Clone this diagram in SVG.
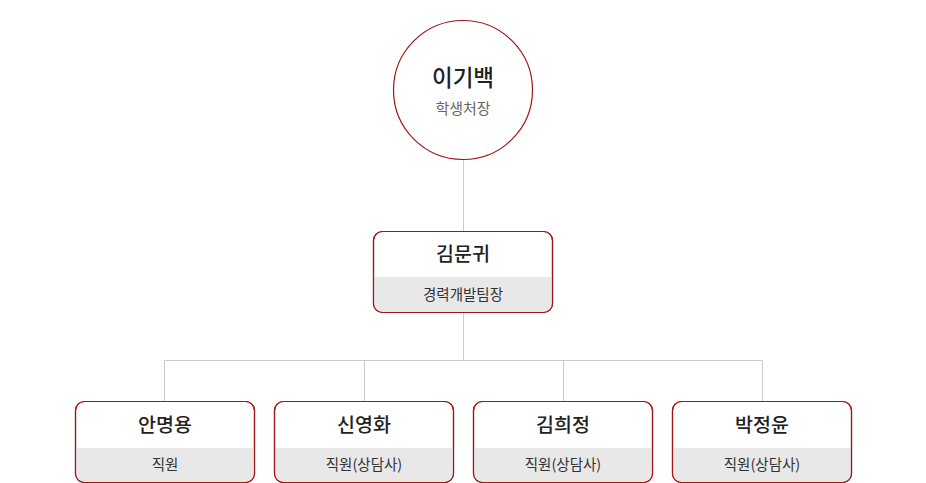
<svg xmlns="http://www.w3.org/2000/svg" width="926" height="483" viewBox="0 0 926 483">
<style>
.box{fill:#fff;stroke:#a31515;stroke-width:1.2}
.band{fill:#e8e8e8}
.name{font-family:"Noto Sans CJK KR","Noto Sans",sans-serif;font-size:19.5px;font-weight:500;fill:#222;text-anchor:middle}
.role{font-family:"Noto Sans CJK KR","Noto Sans",sans-serif;font-size:14.5px;fill:#333;text-anchor:middle}
.conn{stroke:#cccccc;stroke-width:1;fill:none}
</style>
<defs>
<clipPath id="c0"><rect x="373.5" y="231.5" width="179" height="81" rx="9"/></clipPath>
<clipPath id="c1"><rect x="75.5" y="401.5" width="179" height="81" rx="9"/></clipPath>
<clipPath id="c2"><rect x="274.5" y="401.5" width="179" height="81" rx="9"/></clipPath>
<clipPath id="c3"><rect x="473.5" y="401.5" width="179" height="81" rx="9"/></clipPath>
<clipPath id="c4"><rect x="672.5" y="401.5" width="179" height="81" rx="9"/></clipPath>
</defs>
<g id="connectors">
<path class="conn" d="M463.5 160V231.5M463.5 312.5V360.5M164.5 360.5H762.5M164.5 360.5V401.5M364.5 360.5V401.5M563.5 360.5V401.5M762.5 360.5V401.5"/>
</g>
<g id="n-lee">
<circle cx="463" cy="90" r="69.5" fill="#fff" stroke="#a31515" stroke-width="1.2"/>
<text class="name" x="463" y="86" style="font-size:22.5px">이기백</text>
<text class="role" x="463" y="114" style="fill:#666;font-size:15px">학생처장</text>
</g>
<g id="n-kimmg">
<rect class="box" x="373.5" y="231.5" width="179" height="81" rx="9"/>
<rect class="band" x="374" y="277" width="178" height="35" clip-path="url(#c0)"/>
<rect x="373.5" y="231.5" width="179" height="81" rx="9" fill="none" stroke="#a31515" stroke-width="1.2"/>
<text class="name" x="463" y="261">김문귀</text>
<text class="role" x="463" y="300">경력개발팀장</text>
</g>
<g id="n-ahn">
<rect class="box" x="75.5" y="401.5" width="179" height="81" rx="9"/>
<rect class="band" x="76" y="448" width="178" height="34" clip-path="url(#c1)"/>
<rect x="75.5" y="401.5" width="179" height="81" rx="9" fill="none" stroke="#a31515" stroke-width="1.2"/>
<text class="name" x="165" y="432">안명용</text>
<text class="role" x="165" y="470">직원</text>
</g>
<g id="n-shin">
<rect class="box" x="274.5" y="401.5" width="179" height="81" rx="9"/>
<rect class="band" x="275" y="448" width="178" height="34" clip-path="url(#c2)"/>
<rect x="274.5" y="401.5" width="179" height="81" rx="9" fill="none" stroke="#a31515" stroke-width="1.2"/>
<text class="name" x="364" y="432">신영화</text>
<text class="role" x="364" y="470">직원(상담사)</text>
</g>
<g id="n-kimhj">
<rect class="box" x="473.5" y="401.5" width="179" height="81" rx="9"/>
<rect class="band" x="474" y="448" width="178" height="34" clip-path="url(#c3)"/>
<rect x="473.5" y="401.5" width="179" height="81" rx="9" fill="none" stroke="#a31515" stroke-width="1.2"/>
<text class="name" x="563" y="432">김희정</text>
<text class="role" x="563" y="470">직원(상담사)</text>
</g>
<g id="n-park">
<rect class="box" x="672.5" y="401.5" width="179" height="81" rx="9"/>
<rect class="band" x="673" y="448" width="178" height="34" clip-path="url(#c4)"/>
<rect x="672.5" y="401.5" width="179" height="81" rx="9" fill="none" stroke="#a31515" stroke-width="1.2"/>
<text class="name" x="762" y="432">박정윤</text>
<text class="role" x="762" y="470">직원(상담사)</text>
</g>
</svg>
